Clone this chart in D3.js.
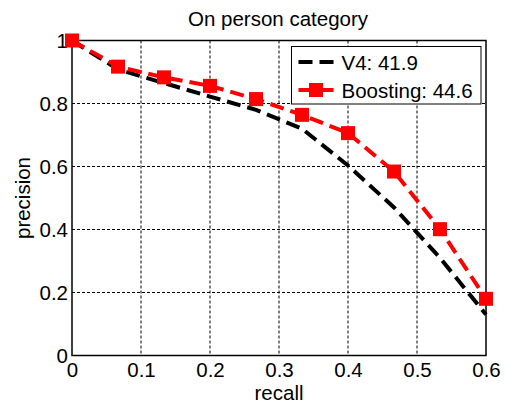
<!DOCTYPE html>
<html>
<head>
<meta charset="utf-8">
<script src="https://cdn.jsdelivr.net/npm/d3@7"></script>
<style>
  body { margin: 0; background: #fff; }
  text { font-family: "Liberation Sans", Arial, sans-serif; fill: #000; }
</style>
</head>
<body>
<div id="graf"></div>
<script>
// Datos
const recall = [0, 0.0667, 0.1333, 0.2, 0.2667, 0.3333, 0.4, 0.4667, 0.5333, 0.6]
const v4 = [1.0, 0.908, 0.865, 0.822, 0.78, 0.72, 0.603, 0.47, 0.31, 0.13]
const boosting = [1.0, 0.917, 0.883, 0.856, 0.814, 0.764, 0.706, 0.584, 0.401, 0.18]
const xTicks = [0, 0.1, 0.2, 0.3, 0.4, 0.5, 0.6]
const yTicks = [0, 0.2, 0.4, 0.6, 0.8, 1]
const legendLabels = ['V4: 41.9', 'Boosting: 44.6']

const anchoTotal = 505
const altoTotal = 403
const margins = { top: 40.5, right: 19, bottom: 47.5, left: 72 }
const ancho = anchoTotal - margins.left - margins.right
const alto = altoTotal - margins.top - margins.bottom
const fontSize = '20.5px'

const svg = d3.select('#graf')
  .append('svg')
  .attr('width', anchoTotal)
  .attr('height', altoTotal)

const g = svg.append('g')
  .attr('transform', `translate(${margins.left}, ${margins.top})`)

const x = d3.scaleLinear().domain([0, 0.6]).range([0, ancho])
const y = d3.scaleLinear().domain([0, 1]).range([alto, 0])

// Rejilla
g.selectAll('.gridx')
  .data(xTicks.slice(1, -1))
  .join('line')
  .attr('x1', d => x(d)).attr('x2', d => x(d))
  .attr('y1', 0).attr('y2', alto)
  .attr('stroke', '#000').attr('stroke-width', 1)
  .attr('stroke-dasharray', '3,2')

g.selectAll('.gridy')
  .data(yTicks.slice(1, -1))
  .join('line')
  .attr('x1', 0).attr('x2', ancho)
  .attr('y1', d => y(d)).attr('y2', d => y(d))
  .attr('stroke', '#000').attr('stroke-width', 1)
  .attr('stroke-dasharray', '3,2')

// Ejes
const xAxis = g.append('g')
  .attr('transform', `translate(0, ${alto})`)
  .call(d3.axisBottom(x).tickValues(xTicks).tickFormat(d3.format('')).tickSize(0).tickPadding(7))
xAxis.select('.domain').remove()
xAxis.selectAll('text').style('font-size', fontSize).attr('fill', '#000')

const yAxis = g.append('g')
  .call(d3.axisLeft(y).tickValues(yTicks).tickFormat(d3.format('')).tickSize(0).tickPadding(4))
yAxis.select('.domain').remove()
yAxis.selectAll('text').style('font-size', fontSize).attr('fill', '#000')

// Marco
g.append('rect')
  .attr('width', ancho)
  .attr('height', alto)
  .attr('fill', 'none')
  .attr('stroke', '#000')
  .attr('stroke-width', 1.5)

// Lineas
const data = recall.map((r, i) => ({ r, v4: v4[i], b: boosting[i] }))

g.append('path')
  .datum(data)
  .attr('fill', 'none')
  .attr('stroke', '#000')
  .attr('stroke-width', 4)
  .attr('stroke-dasharray', '14,7')
  .attr('d', d3.line().x(d => x(d.r)).y(d => y(d.v4)))

g.append('path')
  .datum(data)
  .attr('fill', 'none')
  .attr('stroke', '#ff0000')
  .attr('stroke-width', 4)
  .attr('stroke-dasharray', '14,7')
  .attr('d', d3.line().x(d => x(d.r)).y(d => y(d.b)))

const m = 14
g.selectAll('.marker')
  .data(data)
  .join('rect')
  .attr('x', d => x(d.r) - m / 2)
  .attr('y', d => y(d.b) - m / 2)
  .attr('width', m)
  .attr('height', m)
  .attr('fill', '#ff0000')

// Titulos
svg.append('text')
  .attr('x', 278).attr('y', 26)
  .attr('text-anchor', 'middle')
  .style('font-size', fontSize)
  .text('On person category')

svg.append('text')
  .attr('x', margins.left + ancho / 2).attr('y', 400)
  .attr('text-anchor', 'middle')
  .style('font-size', fontSize)
  .text('recall')

svg.append('text')
  .attr('transform', `translate(30, ${margins.top + alto / 2}) rotate(-90)`)
  .attr('text-anchor', 'middle')
  .style('font-size', fontSize)
  .text('precision')

// Leyenda
const legend = svg.append('g').attr('transform', 'translate(291.5, 46.5)')
legend.append('rect')
  .attr('width', 189.5).attr('height', 57.5)
  .attr('fill', '#fff').attr('stroke', '#000').attr('stroke-width', 1)

const rows = legend.selectAll('.row')
  .data(legendLabels)
  .join('g')
  .attr('transform', (d, i) => `translate(0, ${15.5 + i * 28})`)

rows.append('line')
  .attr('x1', 7).attr('x2', 42)
  .attr('stroke', (d, i) => i === 0 ? '#000' : '#ff0000')
  .attr('stroke-width', 4)
  .attr('stroke-dasharray', (d, i) => i === 0 ? '14,7' : null)

rows.filter((d, i) => i === 1)
  .append('rect')
  .attr('x', 24.5 - m / 2).attr('y', -m / 2)
  .attr('width', m).attr('height', m)
  .attr('fill', '#ff0000')

rows.append('text')
  .attr('x', 50).attr('y', 7.5)
  .style('font-size', fontSize)
  .text(d => d)
</script>
</body>
</html>
